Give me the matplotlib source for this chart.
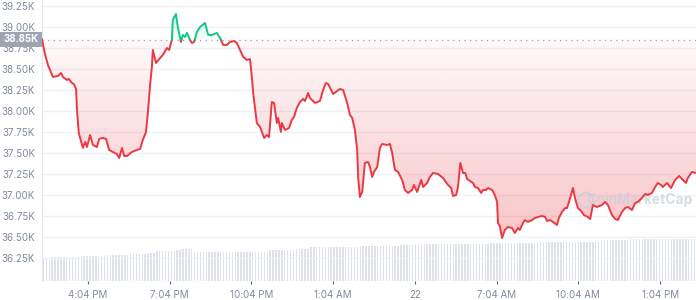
import numpy as np
import matplotlib
matplotlib.use("Agg")
import matplotlib.pyplot as plt
from matplotlib.colors import to_rgb

plt.rcParams['font.family'] = ['Inter', 'DejaVu Sans']

# ---- data (minutes since 14:23, price in USD) ----
minutes = [0,7,13,22,24,35,42,46,55,59,66,70,75,77,81,90,95,99,106,112,121,126,134,141,148,156,165,170,176,181,187,198,209,216,222,229,
           233,238,242,244,251,260,266,275,280,286,288,295,299,306,310,315,319,326,330,335,341,348,359,366,374,385,392,399,407,414,423,429,436,443,451,458,462,
           465,473,480,489,495,500,506,511,517,520,526,528,535,544,550,555,561,568,575,579,586,590,601,612,619,625,630,641,650,656,663,672,678,683,689,
           694,696,700,705,711,718,722,727,731,738,744,749,760,766,771,777,784,793,799,806,815,819,826,835,839,848,854,861,872,883,894,901,905,912,916,
           921,927,932,936,942,949,953,960,967,971,978,982,991,997,1002,1004,1008,1013,1019,1026,1035,1041,1048,1052,1059,1063,1070,1079,1085,1092,
           1101,1108,1112,1119,1125,1134,1138,1145,1152,1156,1163,1169,
           1174,1180,1187,1193,1202,1207,1213,1222,1233,1240,1246,1255,1262,1268,1277,1284,1290,1299,1306,1312,1321,1328,1334,1343,1350,1356,1363,1367,
           1376,1385,1394,1403,1409,1418,1422,1431,1440]
prices = [38850,38667,38548,38429,38405,38417,38452,38405,38369,38381,38333,38321,38262,38012,37738,37560,37631,37571,37714,37595,
          37571,37667,37679,37667,37536,37512,37488,37440,37560,37464,37464,37512,37536,37548,37655,37750,
          37976,38310,38524,38726,38571,38631,38667,38750,38726,38845,39083,39155,39000,38821,38905,38881,38929,38845,38810,38821,
          38940,39000,39048,38905,38905,38929,38869,38786,38786,38821,38833,38810,38726,38643,38607,38619,38405,
          38214,37857,37810,37679,37714,37690,38107,38095,37857,37917,37750,37857,37774,37798,37893,37929,38036,38107,38143,38119,
          38214,38155,38095,38119,38250,38333,38321,38202,38238,38262,38250,38095,37952,37917,37774,
          37536,37214,36976,37036,37381,37393,37333,37214,37274,37333,37560,37607,37595,37607,37500,37298,37274,37179,37060,37024,
          37060,37119,37036,37179,37095,37143,37214,37262,37250,37202,37119,37083,36988,37000,37095,
          37381,37262,37262,37190,37167,37143,37095,37083,37024,37060,37060,37083,37060,37000,36917,36667,36631,36488,36583,36619,
          36607,36548,36607,36583,36667,36702,36679,36702,36726,36738,36750,36738,36690,36702,36679,36643,36726,36798,36845,36845,
          36964,37083,
          36952,36845,36810,36762,36738,36714,36881,36857,36881,36917,36881,36762,36714,36702,36798,36845,36857,36821,36905,36917,
          36964,37012,37000,37024,37095,37143,37119,37095,37143,37083,37179,37226,37190,37143,37202,37274,37262]
baseline = 38850

# volume (in $B) read as groups of equal-height bars
vol_counts = [3,10,9,8,7,2,7,2,4,26,9,5,17,14,7,3,21,17,21,10,23]
vol_levels = [23,24,25,26,27,28,30,31,32,29,31,32,34,35,36,37,37,38,39,41,42]

y_ticks = [36250,36500,36750,37000,37250,37500,37750,38000,38250,38500,38750,39000,39250]
x_tick_pos = [101,281,461,641,821,1001,1181,1361]
x_tick_labels = ["4:04 PM","7:04 PM","10:04 PM","1:04 AM","22","7:04 AM","10:04 AM","1:04 PM"]

RED = "#ea3943"
GREEN = "#16c784"

W, H = 696, 300
fig = plt.figure(figsize=(W/100, H/100), dpi=100)
fig.patch.set_facecolor("white")

rect = [42/W, 19/H, 654/W, 281/H]
axv = fig.add_axes([42/W, 19/H, 654/W, 50/H], zorder=0)
ax = fig.add_axes(rect, zorder=1)
ax.patch.set_visible(False)

# volume bars
vols = np.repeat(vol_levels, vol_counts)
n = len(vols)
pos = (np.arange(n) + 0.5) * 1440 / n
axv.bar(pos, vols, width=1440 / n * 0.5, color="#dfe2ea", linewidth=0)
axv.set_xlim(0, 1440)
axv.set_ylim(0, 50)
axv.axis("off")

t = np.array(minutes, float)
p = np.array(prices, float)

# insert crossing points
tt, pp = [t[0]], [p[0]]
for i in range(1, len(t)):
    a, b = p[i-1] - baseline, p[i] - baseline
    if a * b < 0:
        f = a / (a - b)
        tt.append(t[i-1] + f * (t[i] - t[i-1]))
        pp.append(baseline)
    tt.append(t[i]); pp.append(p[i])
tt = np.array(tt); pp = np.array(pp)

ymin, ymax = 35976, 39321

def grad_fill(lo, hi, color, a_lo, a_hi, v_lo, v_hi):
    poly = ax.fill_between(tt, lo, hi, facecolor="none", edgecolor="none")
    path = poly.get_paths()[0]
    img = np.zeros((200, 1, 4))
    img[:, :, :3] = to_rgb(color)
    img[:, 0, 3] = np.linspace(a_lo, a_hi, 200)
    im = ax.imshow(img, aspect="auto", extent=[0, 1440, v_lo, v_hi], origin="lower",
                   zorder=1, interpolation="bilinear")
    im.set_clip_path(path, transform=ax.transData)

grad_fill(np.minimum(pp, baseline), baseline, RED, 0.30, 0.03, 36450, baseline)
grad_fill(baseline, np.maximum(pp, baseline), GREEN, 0.03, 0.22, baseline, 39170)

red_y = np.where(pp <= baseline + 0.01, pp, np.nan)
green_y = np.where(pp >= baseline - 0.01, pp, np.nan)
ax.plot(tt, red_y, color=RED, lw=1.4, zorder=3, solid_joinstyle="round")
ax.plot(tt, green_y, color=GREEN, lw=1.4, zorder=3, solid_joinstyle="round")

ax.axhline(baseline, color="#9aa3b5", lw=0.9, linestyle=(0, (1, 3.5)), zorder=2)

ax.set_xlim(0, 1440)
ax.set_ylim(ymin, ymax)
ax.set_yticks(y_ticks)
ax.set_yticklabels([f"{v/1000:.2f}K" for v in y_ticks])
ax.set_xticks(x_tick_pos)
ax.set_xticklabels(x_tick_labels)
ax.grid(axis="y", color="#eff2f5", lw=1, zorder=0)
ax.set_axisbelow(True)
for s in ["top", "right", "bottom"]:
    ax.spines[s].set_visible(False)
ax.spines["left"].set_color("#e3e6ec")
ax.spines["left"].set_linewidth(0.8)
ax.tick_params(axis="y", length=0, pad=5, labelsize=7, labelcolor="#808a9d")
ax.tick_params(axis="x", length=2.5, width=0.8, color="#58667e", pad=4, labelsize=7, labelcolor="#808a9d")

# watermark
ax.text(1316, 36940, "CoinMarketCap", color="#c9cdd8", fontsize=10, fontweight="bold",
        ha="center", va="center", alpha=0.7, zorder=2)
ax.scatter([1197], [36940], s=110, facecolors="none", edgecolors="#c9cdd8", linewidths=1.5, alpha=0.7, zorder=2)

# baseline label box
box = plt.Rectangle((0, (H-47)/H), 42/W, 15/H, transform=fig.transFigure,
                    facecolor="#9ea4b2", edgecolor="none", zorder=10)
fig.patches.append(box)
fig.text(21/W, (H-39.5)/H, "38.85K", color="white", fontsize=7, fontweight="bold",
         ha="center", va="center", zorder=11)

fig.savefig("out.png", dpi=100)
